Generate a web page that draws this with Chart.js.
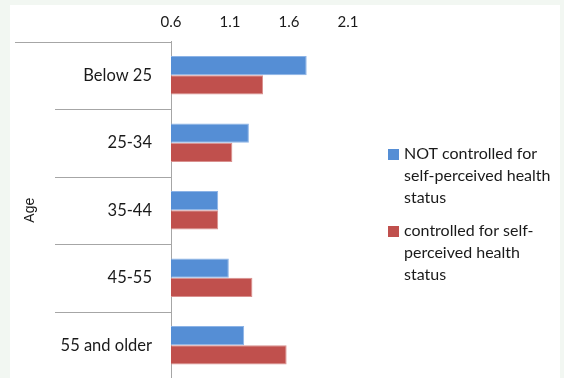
<!DOCTYPE html>
<html>
<head>
<meta charset="utf-8">
<script src="https://cdn.jsdelivr.net/npm/chart.js@4.4.1/dist/chart.umd.min.js"></script>
<style>
    html, body { margin: 0; padding: 0; }
    body { width: 564px; height: 378px; overflow: hidden; background: #f2f7f2; position: relative; }
    #wrap { position: absolute; left: 10px; top: 5px; width: 550px; height: 374px; background: #fff; }
    #chart-age { display: block; }
</style>
</head>
<body>
<div id="wrap"><canvas id="chart-age" width="550" height="374"></canvas></div>
<script>
var categories = ["Below 25", "25-34", "35-44", "45-55", "55 and older"];
var notControlled = [1.75, 1.26, 1.00, 1.09, 1.22];
var controlled = [1.38, 1.12, 1.00, 1.29, 1.58];
var xTicks = [0.6, 1.1, 1.6, 2.1];
var seriesNames = [
    ["NOT controlled for", "self-perceived health", "status"],
    ["controlled for self-", "perceived health", "status"]
];

var lineColor = "#a6a6a6";

// separator lines between the age groups, like the excel category axis
var separators = {
    id: "separators",
    afterDraw: function(chart) {
        var ctx = chart.ctx, ys = chart.scales.y, area = chart.chartArea;
        var step = ys.getPixelForValue(1) - ys.getPixelForValue(0);
        ctx.save();
        ctx.strokeStyle = lineColor;
        ctx.lineWidth = 1;
        for (var i = 0; i <= categories.length; i++) {
            var y = Math.round(ys.getPixelForValue(i) - step / 2) + 0.5;
            var x0 = i === 0 ? 5 : 45;
            ctx.beginPath();
            ctx.moveTo(x0, y);
            ctx.lineTo(area.left, y);
            ctx.stroke();
        }
        ctx.restore();
    }
};

// legend with wrapped labels on the right
var sideLegend = {
    id: "sideLegend",
    afterDraw: function(chart) {
        var ctx = chart.ctx, area = chart.chartArea;
        var x = area.right + 40, y = 149, lh = 22;
        ctx.save();
        ctx.font = "16px Lato";
        ctx.textBaseline = "middle";
        ctx.textAlign = "left";
        chart.data.datasets.forEach(function(ds) {
            ctx.fillStyle = ds.backgroundColor;
            ctx.fillRect(x, y - 5, 11, 11);
            ctx.fillStyle = "#1a1a1a";
            ds.label.forEach(function(line, j) {
                ctx.fillText(line, x + 16, y + j * lh);
            });
            y += ds.label.length * lh + 11;
        });
        ctx.restore();
    }
};

document.addEventListener("DOMContentLoaded", function() {
    Chart.defaults.font.family = "Lato";
    Chart.defaults.color = "#1a1a1a";

    new Chart(document.getElementById("chart-age"), {
        type: "bar",
        data: {
            labels: categories,
            datasets: [{
                label: seriesNames[0],
                data: notControlled,
                backgroundColor: "#558ed5",
                borderColor: "#8cb3e6",
                borderWidth: 1
            }, {
                label: seriesNames[1],
                data: controlled,
                backgroundColor: "#c0504d",
                borderColor: "#d9908e",
                borderWidth: 1
            }]
        },
        options: {
            indexAxis: "y",
            responsive: false,
            animation: false,
            categoryPercentage: 0.57,
            barPercentage: 1.0,
            layout: { padding: { left: 0, right: 212, top: 0, bottom: 0 } },
            plugins: {
                legend: { display: false },
                tooltip: { enabled: false }
            },
            scales: {
                x: {
                    position: "top",
                    min: xTicks[0],
                    max: xTicks[xTicks.length - 1],
                    afterBuildTicks: function(scale) {
                        scale.ticks = xTicks.map(function(v) { return { value: v }; });
                    },
                    ticks: {
                        padding: 10,
                        font: { size: 15 },
                        callback: function(v) { return Number(v).toFixed(1); }
                    },
                    grid: { display: false, drawTicks: false },
                    border: { display: false },
                    afterFit: function(scale) {
                        scale.height = 36.5;
                        scale.paddingLeft = 0;
                        scale.paddingRight = 0;
                    }
                },
                y: {
                    ticks: {
                        padding: 19,
                        font: { size: 16.5 }
                    },
                    grid: { display: false, drawTicks: false },
                    border: { display: true, color: lineColor, width: 1 },
                    title: {
                        display: true,
                        text: "Age",
                        font: { family: "Liberation Sans", size: 14 },
                        padding: { top: 12, bottom: 0 }
                    },
                    afterFit: function(scale) {
                        scale.width = 161;
                        scale.paddingTop = 0;
                        scale.paddingBottom = 0;
                    }
                }
            }
        },
        plugins: [separators, sideLegend]
    });
});
</script>
</body>
</html>
